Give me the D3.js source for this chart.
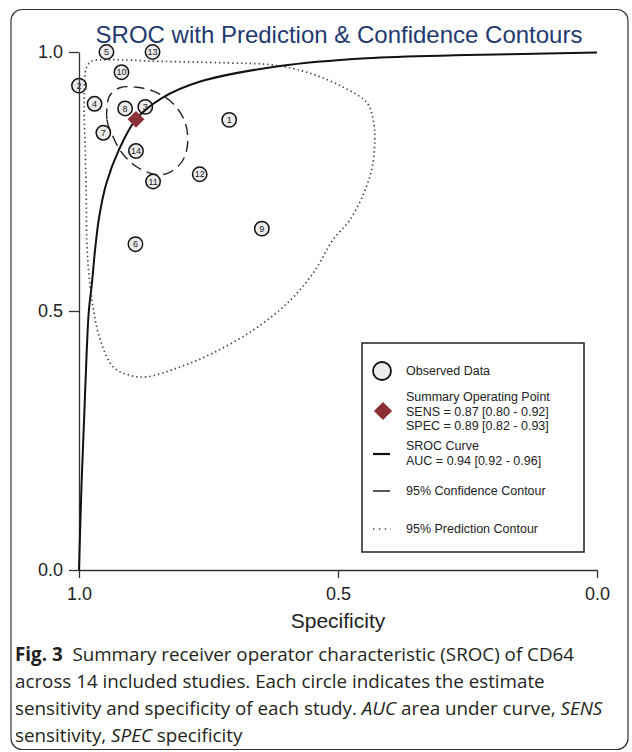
<!DOCTYPE html>
<html>
<head>
<meta charset="utf-8">
<script src="https://cdn.jsdelivr.net/npm/d3@7"></script>
<style>
  body { margin: 0; background: #fff; }
  svg { display: block; }
</style>
</head>
<body>
<div id="chart"></div>
<script>
// study estimates
const studyIds = [1, 2, 3, 4, 5, 6, 7, 8, 9, 10, 11, 12, 13, 14];
const studySpec = [0.710, 1.000, 0.872, 0.970, 0.947, 0.891, 0.953, 0.911, 0.647, 0.918, 0.857, 0.767, 0.858, 0.890];
const studySens = [0.869, 0.935, 0.894, 0.900, 1.000, 0.629, 0.844, 0.891, 0.659, 0.961, 0.750, 0.764, 1.000, 0.809];

// summary operating point
const summarySpec = 0.89;
const summarySens = 0.87;

// SROC curve
const srocSpec = [1.000, 0.998, 0.995, 0.990, 0.985, 0.981, 0.975, 0.969, 0.961, 0.947, 0.923, 0.890, 0.840, 0.766, 0.612, 0.445, 0.252, 0.000];
const srocSens = [0.000, 0.071, 0.168, 0.296, 0.425, 0.500, 0.554, 0.618, 0.682, 0.747, 0.811, 0.870, 0.911, 0.943, 0.973, 0.988, 0.994, 0.999];

// 95% confidence contour
const confSpec = [0.944, 0.946, 0.936, 0.917, 0.888, 0.849, 0.824, 0.799, 0.790, 0.797, 0.820, 0.853, 0.888, 0.921, 0.940];
const confSens = [0.907, 0.869, 0.840, 0.805, 0.778, 0.763, 0.768, 0.792, 0.828, 0.869, 0.902, 0.923, 0.932, 0.931, 0.917];

// 95% prediction contour
const predSpec = [0.986, 0.976, 0.940, 0.844, 0.714, 0.627, 0.554, 0.490, 0.444, 0.432, 0.429, 0.434, 0.450, 0.477, 0.510, 0.548, 0.598, 0.664, 0.741, 0.805, 0.869, 0.902, 0.934, 0.959, 0.973, 0.981, 0.985, 0.986, 0.988, 0.990, 0.989];
const predSens = [0.969, 0.982, 0.985, 0.982, 0.979, 0.975, 0.959, 0.932, 0.902, 0.869, 0.830, 0.778, 0.728, 0.676, 0.637, 0.573, 0.515, 0.463, 0.419, 0.392, 0.373, 0.376, 0.392, 0.444, 0.508, 0.573, 0.637, 0.720, 0.811, 0.888, 0.946];

const axisTicks = [1.0, 0.5, 0.0];

const legendLabels = [
  ['Observed Data'],
  ['Summary Operating Point', 'SENS = 0.87 [0.80 - 0.92]', 'SPEC = 0.89 [0.82 - 0.93]'],
  ['SROC Curve', 'AUC = 0.94 [0.92 - 0.96]'],
  ['95% Confidence Contour'],
  ['95% Prediction Contour']
];

const W = 632;
const H = 752;
const font = '"Liberation Sans", Arial, sans-serif';
const ink = '#222';

const svg = d3.select('#chart').append('svg')
  .attr('width', W)
  .attr('height', H);

svg.append('rect')
  .attr('width', W).attr('height', H)
  .attr('fill', '#fff');

// figure frame
svg.append('rect')
  .attr('x', 11).attr('y', 9.5)
  .attr('width', 617).attr('height', 740)
  .attr('rx', 11).attr('ry', 11)
  .attr('fill', 'none')
  .attr('stroke', '#333')
  .attr('stroke-width', 1.2);

const x = d3.scaleLinear().domain([1, 0]).range([79, 597]);
const y = d3.scaleLinear().domain([0, 1]).range([570, 52]);

// title
svg.append('text')
  .attr('x', 339).attr('y', 43)
  .attr('text-anchor', 'middle')
  .attr('font-family', font)
  .attr('font-size', 24)
  .attr('fill', '#1f3a70')
  .text('SROC with Prediction & Confidence Contours');

const plot = svg.append('g');

// study circles
const studies = studyIds.map((id, i) => ({ id, spec: studySpec[i], sens: studySens[i] }));
const pts = plot.selectAll('g.study')
  .data(studies)
  .join('g')
  .attr('class', 'study')
  .attr('transform', (d) => `translate(${x(d.spec)},${y(d.sens)})`);
pts.append('circle')
  .attr('r', 7.2)
  .attr('fill', '#ebebeb')
  .attr('stroke', '#111')
  .attr('stroke-width', 1.5);
pts.append('text')
  .attr('text-anchor', 'middle')
  .attr('dy', '0.35em')
  .attr('font-family', font)
  .attr('font-size', 9)
  .attr('fill', '#222')
  .text((d) => d.id);

// axes (drawn over the circles, as in the figure)
const fmt = d3.format('.1f');
const xAxis = svg.append('g')
  .attr('transform', 'translate(0,570)')
  .call(d3.axisBottom(x).tickValues(axisTicks).tickFormat(fmt).tickSize(8).tickSizeOuter(0).tickPadding(9));
const yAxis = svg.append('g')
  .attr('transform', 'translate(79,0)')
  .call(d3.axisLeft(y).tickValues(axisTicks).tickFormat(fmt).tickSize(10).tickSizeOuter(0).tickPadding(6));

[xAxis, yAxis].forEach((g) => {
  g.select('.domain').attr('stroke', '#333').attr('stroke-width', 1.3);
  g.selectAll('.tick line').attr('stroke', '#333').attr('stroke-width', 1.3);
  g.selectAll('.tick text')
    .attr('font-family', font)
    .attr('font-size', 18)
    .attr('fill', ink);
});

svg.append('text')
  .attr('x', 338).attr('y', 628)
  .attr('text-anchor', 'middle')
  .attr('font-family', font)
  .attr('font-size', 21)
  .attr('fill', ink)
  .text('Specificity');

// contours and curve
const lines = svg.append('g');
const closed = d3.line()
  .x((d) => x(d[0]))
  .y((d) => y(d[1]))
  .curve(d3.curveCatmullRomClosed.alpha(0.5));

lines.append('path')
  .attr('d', closed(d3.zip(predSpec, predSens)))
  .attr('fill', 'none')
  .attr('stroke', '#444')
  .attr('stroke-width', 1.7)
  .attr('stroke-dasharray', '1.4,3');

lines.append('path')
  .attr('d', closed(d3.zip(confSpec, confSens)))
  .attr('fill', 'none')
  .attr('stroke', '#222')
  .attr('stroke-width', 1.4)
  .attr('stroke-dasharray', '11,6');

const open = d3.line()
  .x((d) => x(d[0]))
  .y((d) => y(d[1]))
  .curve(d3.curveCatmullRom.alpha(0.5));

lines.append('path')
  .attr('d', open(d3.zip(srocSpec, srocSens)))
  .attr('fill', 'none')
  .attr('stroke', '#111')
  .attr('stroke-width', 2);

// summary point
const diamond = d3.symbol().type(d3.symbolSquare).size(140);
lines.append('path')
  .attr('d', diamond())
  .attr('transform', `translate(${x(summarySpec)},${y(summarySens)}) rotate(45)`)
  .attr('fill', '#8c3036');

// legend
const lg = svg.append('g');
lg.append('rect')
  .attr('x', 362).attr('y', 343)
  .attr('width', 222).attr('height', 209)
  .attr('fill', '#fff')
  .attr('stroke', '#222')
  .attr('stroke-width', 1.5);

const legendY = [371, 397, 446, 491, 529];
const lineGap = 14.2;
legendLabels.forEach((rows, i) => {
  const t = lg.append('text')
    .attr('x', 406)
    .attr('y', legendY[i])
    .attr('font-family', font)
    .attr('font-size', 12.5)
    .attr('fill', ink);
  rows.forEach((s, j) => {
    t.append('tspan')
      .attr('x', 406)
      .attr('y', legendY[i] + j * lineGap)
      .attr('dy', '0.35em')
      .text(s);
  });
});

lg.append('circle')
  .attr('cx', 382).attr('cy', 371).attr('r', 9)
  .attr('fill', '#ebebeb').attr('stroke', '#111').attr('stroke-width', 1.8);
lg.append('path')
  .attr('d', d3.symbol().type(d3.symbolSquare).size(165)())
  .attr('transform', 'translate(383,411) rotate(45)')
  .attr('fill', '#8c3036');
lg.append('line')
  .attr('x1', 373).attr('x2', 390).attr('y1', 454).attr('y2', 454)
  .attr('stroke', '#111').attr('stroke-width', 2.2);
lg.append('line')
  .attr('x1', 373).attr('x2', 390).attr('y1', 491).attr('y2', 491)
  .attr('stroke', '#222').attr('stroke-width', 1.5);
lg.append('line')
  .attr('x1', 373).attr('x2', 391).attr('y1', 529).attr('y2', 529)
  .attr('stroke', '#444').attr('stroke-width', 1.6)
  .attr('stroke-dasharray', '1.4,4.5');

// caption
const capFont = '"Open Sans", "Noto Sans", sans-serif';
const captionLines = [
  [['b', 'Fig. 3'], ['n', '  Summary receiver operator characteristic (SROC) of CD64']],
  [['n', 'across 14 included studies. Each circle indicates the estimate']],
  [['n', 'sensitivity and specificity of each study. '], ['i', 'AUC'], ['n', ' area under curve, '], ['i', 'SENS']],
  [['n', 'sensitivity, '], ['i', 'SPEC'], ['n', ' specificity']]
];
const capY = [661, 688, 715, 742];
captionLines.forEach((parts, i) => {
  const t = svg.append('text')
    .attr('x', 15)
    .attr('y', capY[i])
    .attr('font-family', capFont)
    .attr('font-size', 18.8)
    .attr('fill', '#231f20')
    .attr('xml:space', 'preserve');
  parts.forEach(([k, s]) => {
    t.append('tspan')
      .attr('font-weight', k === 'b' ? 700 : 400)
      .attr('font-style', k === 'i' ? 'italic' : 'normal')
      .text(s);
  });
});
</script>
</body>
</html>
